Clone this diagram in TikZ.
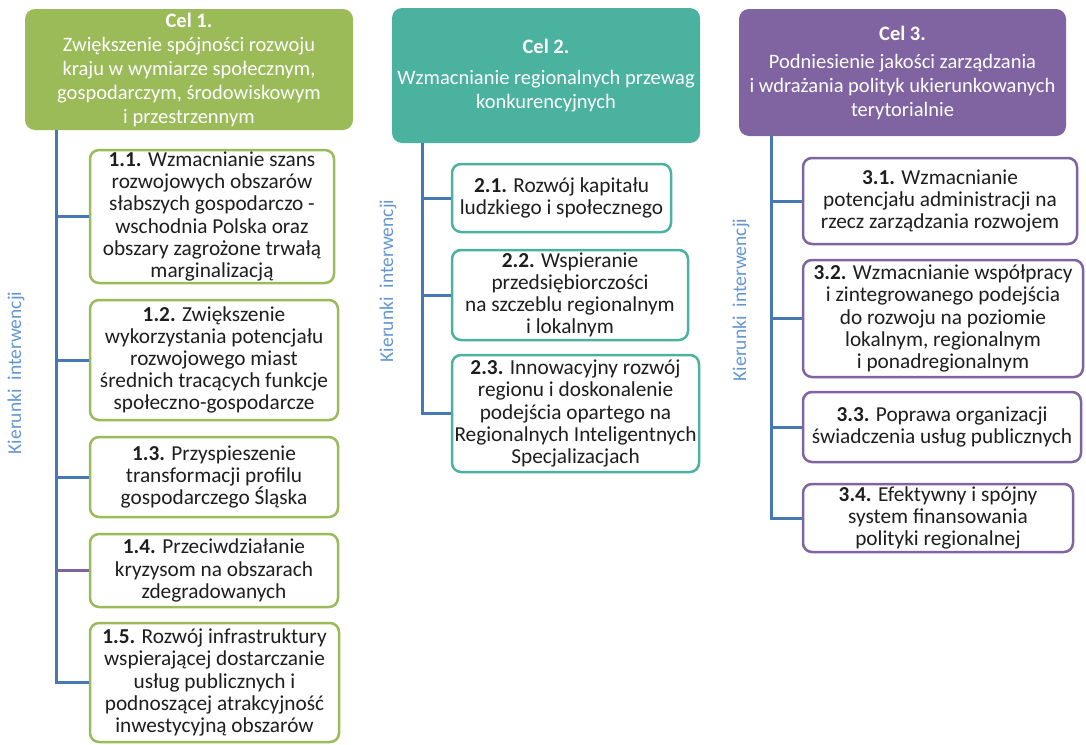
\documentclass[tikz,border=0pt]{standalone}
\usepackage{fontspec}
\setmainfont{Carlito}
\definecolor{cgreen}{RGB}{155,187,89}
\definecolor{cteal}{RGB}{75,178,160}
\definecolor{cpurple}{RGB}{128,100,162}
\definecolor{cline}{RGB}{70,120,180}
\definecolor{clabel}{RGB}{100,150,210}
\definecolor{ctext}{RGB}{30,30,30}
\tikzset{
  hdr/.style={rounded corners=10pt, fill=#1, text=white, align=center,
    font=\fontsize{20.5}{24}\selectfont, inner sep=1pt},
  item/.style={draw=#1, line width=2.5pt, rounded corners=9pt, fill=white,
    align=center, text=ctext, font=\fontsize{21.3}{22.2}\selectfont, inner sep=1pt},
  spine/.style={draw=cline, line width=3pt},
  lbl/.style={text=clabel, rotate=90, font=\fontsize{19.5}{21}\selectfont}
}
\begin{document}
\begin{tikzpicture}[x=1pt,y=-1pt]
\useasboundingbox (0,0) rectangle (1086,744);
% ---------- column 1 ----------
\node[hdr=cgreen, minimum width=328pt, minimum height=121pt] (h1) at (189,69.5)
  {{\bfseries Cel 1.}\\Zwiększenie spójności rozwoju\\kraju w wymiarze społecznym,\\gospodarczym, środowiskowym\\i przestrzennym};
\node[item=cgreen, minimum width=244pt, minimum height=133pt] (b11) at (212,216.5)
  {\textbf{1.1.} Wzmacnianie szans\\rozwojowych obszarów\\słabszych gospodarczo -\\wschodnia Polska oraz\\obszary zagrożone trwałą\\marginalizacją};
\node[item=cgreen, minimum width=248pt, minimum height=120pt] (b12) at (214,360)
  {\textbf{1.2.} Zwiększenie\\wykorzystania potencjału\\rozwojowego miast\\średnich tracących funkcje\\społeczno-gospodarcze};
\node[item=cgreen, minimum width=248pt, minimum height=80pt] (b13) at (214,477)
  {\textbf{1.3.} Przyspieszenie\\transformacji profilu\\gospodarczego Śląska};
\node[item=cgreen, minimum width=248pt, minimum height=73pt] (b14) at (214,570.5)
  {\textbf{1.4.} Przeciwdziałanie\\kryzysom na obszarach\\zdegradowanych};
\node[item=cgreen, minimum width=249pt, minimum height=119pt] (b15) at (214.5,682.5)
  {\textbf{1.5.} Rozwój infrastruktury\\wspierającej dostarczanie\\usług publicznych i\\podnoszącej atrakcyjność\\inwestycyjną obszarów};
\coordinate (x1) at (56,0);
\draw[spine] (h1.south -| x1) |- (b15.west);
\draw[spine] (h1.south -| x1) |- (b11.west);
\draw[spine] (b12.west -| x1) -- (b12.west);
\draw[spine] (b13.west -| x1) -- (b13.west);
\draw[spine, draw=cpurple] (b14.west -| x1) -- (b14.west);
\node[lbl] (k1) at (16,373) {Kierunki\ \ interwencji};
% ---------- column 2 ----------
\node[hdr=cteal, minimum width=308pt, minimum height=135pt] (h2) at (546,75.5)
  {{\bfseries Cel 2.}\\[7pt]Wzmacnianie regionalnych przewag\\konkurencyjnych};
\node[item=cteal, minimum width=219pt, minimum height=68pt] (b21) at (561.5,198)
  {\textbf{2.1.} Rozwój kapitału\\ludzkiego i społecznego};
\node[item=cteal, minimum width=236pt, minimum height=90pt] (b22) at (570,295)
  {\textbf{2.2.} Wspieranie\\przedsiębiorczości\\na szczeblu regionalnym\\i lokalnym};
\node[item=cteal, minimum width=247pt, minimum height=117pt] (b23) at (575.5,413.5)
  {\textbf{2.3.} Innowacyjny rozwój\\regionu i doskonalenie\\podejścia opartego na\\Regionalnych Inteligentnych\\Specjalizacjach};
\coordinate (x2) at (422,0);
\draw[spine] (h2.south -| x2) |- (b23.west);
\draw[spine] (b21.west -| x2) -- (b21.west);
\draw[spine] (b22.west -| x2) -- (b22.west);
\node[lbl] (k2) at (388,281) {Kierunki\ \ interwencji};
% ---------- column 3 ----------
\node[hdr=cpurple, minimum width=327pt, minimum height=127pt] (h3) at (902.5,72.5)
  {{\bfseries Cel 3.}\\[4pt]Podniesienie jakości zarządzania\\i wdrażania polityk ukierunkowanych\\terytorialnie};
\node[item=cpurple, minimum width=274pt, minimum height=86pt] (b31) at (940,201)
  {\textbf{3.1.} Wzmacnianie\\potencjału administracji na\\rzecz zarządzania rozwojem};
\node[item=cpurple, minimum width=280pt, minimum height=117pt] (b32) at (943,318.5)
  {\textbf{3.2.} Wzmacnianie współpracy\\i zintegrowanego podejścia\\do rozwoju na poziomie\\lokalnym, regionalnym\\i ponadregionalnym};
\node[item=cpurple, minimum width=278pt, minimum height=70pt] (b33) at (942,427)
  {\textbf{3.3.} Poprawa organizacji\\świadczenia usług publicznych};
\node[item=cpurple, minimum width=270pt, minimum height=68pt] (b34) at (938,518)
  {\textbf{3.4.} Efektywny i spójny\\system finansowania\\polityki regionalnej};
\coordinate (x3) at (771,0);
\draw[spine] (h3.south -| x3) |- (b34.west);
\draw[spine] (b31.west -| x3) -- (b31.west);
\draw[spine] (b32.west -| x3) -- (b32.west);
\draw[spine] (b33.west -| x3) -- (b33.west);
\node[lbl] (k3) at (741,300) {Kierunki\ \ interwencji};
\end{tikzpicture}
\end{document}
